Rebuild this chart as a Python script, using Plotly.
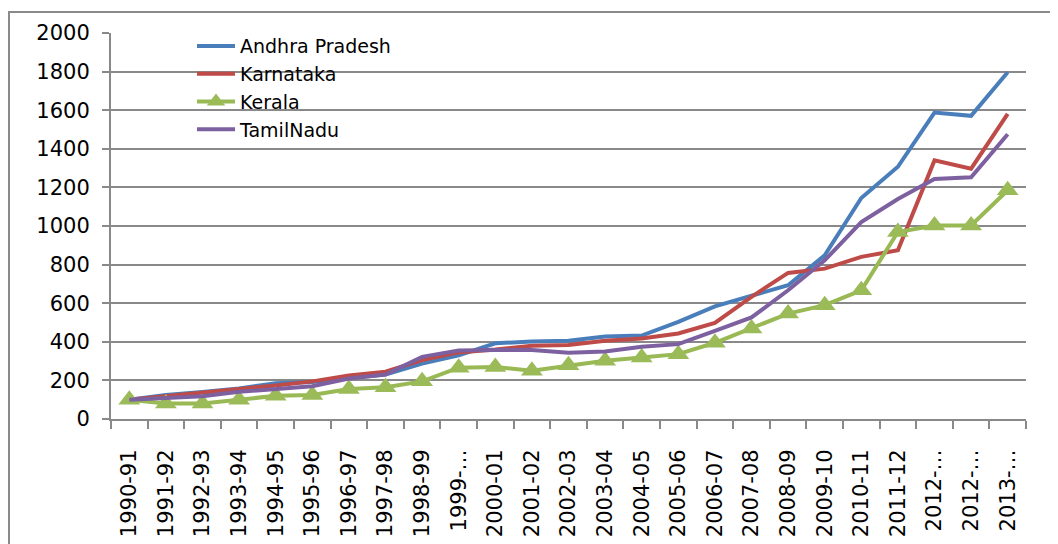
import plotly.graph_objects as go

categories = ["1990-91", "1991-92", "1992-93", "1993-94", "1994-95", "1995-96",
              "1996-97", "1997-98", "1998-99", "1999-…", "2000-01", "2001-02",
              "2002-03", "2003-04", "2004-05", "2005-06", "2006-07", "2007-08",
              "2008-09", "2009-10", "2010-11", "2011-12", "2012-…", "2012-…", "2013-…"]

andhra = [100, 125, 140, 158, 185, 192, 212, 230, 287, 330, 392, 402, 405, 428, 432,
          503, 584, 636, 693, 848, 1145, 1307, 1588, 1571, 1797]
karnataka = [100, 120, 136, 156, 174, 195, 225, 245, 305, 345, 360, 380, 383, 405, 417,
             443, 498, 633, 757, 779, 840, 874, 1340, 1297, 1581]
kerala = [100, 80, 80, 100, 120, 125, 155, 165, 195, 266, 270, 250, 278, 302, 319,
          336, 395, 469, 546, 590, 667, 969, 1003, 1003, 1185]
tamilnadu = [100, 108, 118, 141, 156, 170, 210, 230, 322, 355, 357, 357, 343, 350, 374,
             388, 457, 526, 667, 822, 1020, 1140, 1243, 1252, 1475]

y_ticks = list(range(0, 2001, 200))

x = list(range(len(categories)))
FONT = "DejaVu Sans"
GRID = "#898989"

# the page body adds an 8px offset; margins are set so the plot area lands where the reference has it
PL, PT, PW, PH = 103, 25, 915, 386

fig = go.Figure()
fig.add_trace(go.Scatter(x=x, y=andhra, name="Andhra Pradesh", mode="lines",
                         line=dict(color="#4A7EBB", width=4)))
fig.add_trace(go.Scatter(x=x, y=karnataka, name="Karnataka", mode="lines",
                         line=dict(color="#BE4B48", width=4)))
fig.add_trace(go.Scatter(x=x, y=kerala, name="Kerala", mode="lines+markers",
                         line=dict(color="#98B954", width=4),
                         marker=dict(symbol="triangle-up", size=19, color="#9BBB59")))
fig.add_trace(go.Scatter(x=x, y=tamilnadu, name="TamilNadu", mode="lines",
                         line=dict(color="#7D60A0", width=4)))

fig.update_layout(
    width=1058, height=544, autosize=False,
    margin=dict(l=PL, r=1058 - PL - PW, t=PT, b=544 - PT - PH, pad=0),
    paper_bgcolor="white", plot_bgcolor="white",
    font=dict(family=FONT, color="black", size=20),
    showlegend=True,
    legend=dict(x=81 / PW, y=1.015, xanchor="left", yanchor="top",
                bgcolor="rgba(0,0,0,0)", font=dict(family=FONT, size=19, color="black"),
                itemwidth=38, tracegroupgap=0),
    xaxis=dict(
        range=[-0.5, len(categories) - 0.5], tickmode="array", tickvals=x,
        ticktext=categories, tickangle=-90, ticks="", showgrid=False,
        tickfont=dict(family=FONT, size=21, color="black"),
        ticklabelstandoff=20, automargin=False,
        showline=True, linecolor=GRID, linewidth=2, zeroline=False,
        minor=dict(tickmode="linear", tick0=-0.5, dtick=1, ticks="outside",
                   ticklen=8, tickcolor=GRID, tickwidth=2, showgrid=False),
    ),
    yaxis=dict(
        range=[0, 2000], tickmode="array", tickvals=y_ticks,
        ticks="outside", ticklen=7, tickcolor=GRID, tickwidth=2,
        showgrid=True, gridcolor=GRID, gridwidth=2, automargin=False,
        ticklabelstandoff=8,
        showline=True, linecolor=GRID, linewidth=2, zeroline=False,
        tickfont=dict(family=FONT, size=21, color="black"),
    ),
    shapes=[dict(type="rect", xref="paper", yref="paper",
                 x0=(1 - PL) / PW, x1=(1080 - PL) / PW,
                 y0=(PT + PH - 560) / PH, y1=(PT + PH + 1 - 5) / PH,
                 line=dict(color="#8a8a8a", width=2), fillcolor="rgba(0,0,0,0)",
                 layer="below")],
)

fig.write_html("out.html")
